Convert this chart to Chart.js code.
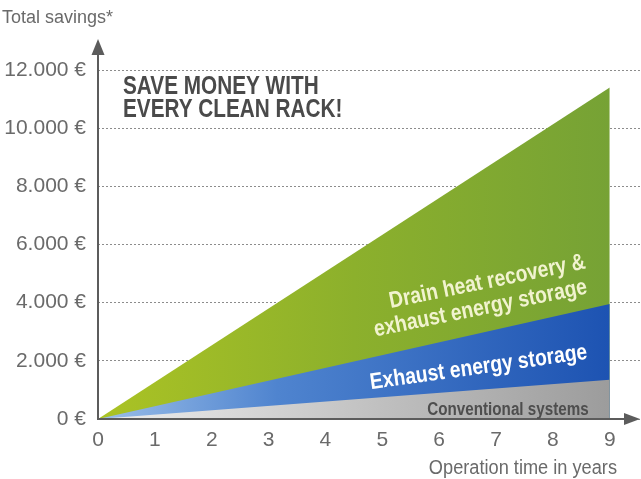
<!DOCTYPE html>
<html>
<head>
<meta charset="utf-8">
<script src="https://cdn.jsdelivr.net/npm/chart.js@4"></script>
<style>
  html, body { margin: 0; padding: 0; background: #fff; }
  #wrap { width: 641px; height: 479px; }
</style>
</head>
<body>
<div id="wrap"><canvas id="chart" width="641" height="479"></canvas></div>
<script>
// ---------- DATA ----------

const years = [0, 9];
const conventional = [0, 1350];
const exhaustStorage = [0, 3950];
const drainAndExhaust = [0, 11400];

const yTicks = [0, 2000, 4000, 6000, 8000, 10000, 12000];
const xTicks = [0, 1, 2, 3, 4, 5, 6, 7, 8, 9];

const yTitle = "Total savings*";
const xTitle = "Operation time in years";
const headline = ["SAVE MONEY WITH", "EVERY CLEAN RACK!"];
const drainLabel = ["Drain heat recovery &", "exhaust energy storage"];
const exhaustLabel = "Exhaust energy storage";
const conventionalLabel = "Conventional systems";

// ---------- STYLE ----------

const SANS = '"Liberation Sans", Arial, sans-serif';
const AXIS_GREY = "#5c5c5c";
const TEXT_GREY = "#6a6a6a";

function euro(v) {
  return String(v).replace(/\B(?=(\d{3})+(?!\d))/g, ".") + " €";
}

function toPoints(values) {
  return years.map((x, i) => ({ x, y: values[i] }));
}

// horizontal gradient running from year 0 to year 9
function gradient(stops) {
  return (context) => {
    const chart = context.chart;
    if (!chart.chartArea) return stops[stops.length - 1][1];
    const x0 = chart.scales.x.getPixelForValue(years[0]);
    const x1 = chart.scales.x.getPixelForValue(years[years.length - 1]);
    const g = chart.ctx.createLinearGradient(x0, 0, x1, 0);
    stops.forEach(([pos, col]) => g.addColorStop(pos, col));
    return g;
  };
}

// condensed look: squeeze a normal font horizontally
function narrowText(ctx, text, x, y, squeeze, angle) {
  ctx.save();
  ctx.translate(x, y);
  if (angle) ctx.rotate(angle * Math.PI / 180);
  ctx.scale(squeeze, 1);
  ctx.fillText(text, 0, 0);
  ctx.restore();
}

// ---------- PLUGINS ----------

const arrowAxes = {
  id: "arrowAxes",
  afterDatasetsDraw(chart) {
    const { ctx, chartArea: a } = chart;
    ctx.save();
    ctx.strokeStyle = AXIS_GREY;
    ctx.fillStyle = AXIS_GREY;
    ctx.lineWidth = 2;

    // y axis
    ctx.beginPath();
    ctx.moveTo(a.left, a.bottom + 1);
    ctx.lineTo(a.left, a.top - 16);
    ctx.stroke();
    ctx.beginPath();
    ctx.moveTo(a.left, a.top - 31);
    ctx.lineTo(a.left - 6.5, a.top - 15);
    ctx.lineTo(a.left + 6.5, a.top - 15);
    ctx.closePath();
    ctx.fill();

    // x axis
    ctx.beginPath();
    ctx.moveTo(a.left - 1, a.bottom);
    ctx.lineTo(a.right - 16, a.bottom);
    ctx.stroke();
    ctx.beginPath();
    ctx.moveTo(a.right - 1, a.bottom);
    ctx.lineTo(a.right - 17, a.bottom - 6);
    ctx.lineTo(a.right - 17, a.bottom + 6);
    ctx.closePath();
    ctx.fill();
    ctx.restore();
  }
};

const chartTexts = {
  id: "chartTexts",
  afterDatasetsDraw(chart) {
    const { ctx } = chart;
    const xs = chart.scales.x;
    const ys = chart.scales.y;
    const px = (v) => xs.getPixelForValue(v);
    const py = (v) => ys.getPixelForValue(v);

    ctx.save();
    ctx.textBaseline = "alphabetic";

    // axis titles
    ctx.fillStyle = TEXT_GREY;
    ctx.font = "18px " + SANS;
    ctx.textAlign = "left";
    ctx.fillText(yTitle, 2, 23);

    ctx.font = "20px " + SANS;
    ctx.textAlign = "right";
    narrowText(ctx, xTitle, 617, 474, 0.91);

    // headline
    ctx.fillStyle = "#4a4a4a";
    ctx.font = "bold 25px " + SANS;
    ctx.textAlign = "left";
    narrowText(ctx, headline[0], px(0.44), py(11170), 0.83);
    narrowText(ctx, headline[1], px(0.44), py(10380), 0.83);

    // label on the green area
    ctx.font = "bold 23px " + SANS;
    ctx.textAlign = "center";
    ctx.fillStyle = "#f1f3cf";
    narrowText(ctx, drainLabel[0], px(6.87), py(4500), 0.84, -11.5);
    narrowText(ctx, drainLabel[1], px(6.75), py(3580), 0.84, -11.5);

    // label on the blue area
    ctx.fillStyle = "#ffffff";
    narrowText(ctx, exhaustLabel, px(6.71), py(1550), 0.84, -8);

    // label on the grey area
    ctx.fillStyle = "#4e4e4e";
    ctx.font = "bold 18px " + SANS;
    ctx.textAlign = "right";
    narrowText(ctx, conventionalLabel, px(8.63), py(140), 0.845);

    ctx.restore();
  }
};

// ---------- CHART ----------

new Chart(document.getElementById("chart"), {
  type: "line",
  data: {
    datasets: [
      {
        label: conventionalLabel,
        data: toPoints(conventional),
        fill: "origin",
        borderWidth: 0,
        pointRadius: 0,
        tension: 0,
        backgroundColor: gradient([[0, "#efefef"], [0.5, "#c4c4c4"], [1, "#9c9c9c"]])
      },
      {
        label: exhaustLabel,
        data: toPoints(exhaustStorage),
        fill: "origin",
        borderWidth: 0,
        pointRadius: 0,
        tension: 0,
        backgroundColor: gradient([[0, "#9cbfe9"], [0.35, "#4f84cf"], [1, "#1d53b2"]])
      },
      {
        label: drainLabel.join(" "),
        data: toPoints(drainAndExhaust),
        fill: "origin",
        borderWidth: 0,
        pointRadius: 0,
        tension: 0,
        backgroundColor: gradient([[0, "#abc324"], [0.5, "#8cb02c"], [1, "#76a235"]])
      }
    ]
  },
  options: {
    responsive: false,
    animation: false,
    events: [],
    layout: { padding: { top: 70, right: 0, bottom: 0, left: 0 } },
    plugins: {
      legend: { display: false },
      tooltip: { enabled: false }
    },
    scales: {
      x: {
        type: "linear",
        min: 0,
        max: 9.55,
        afterBuildTicks: (scale) => {
          scale.ticks = xTicks.map((v) => ({ value: v }));
        },
        afterFit: (scale) => { scale.height = 60; },
        grid: { display: false, drawTicks: false },
        border: { display: false },
        ticks: {
          padding: 9,
          maxRotation: 0,
          color: TEXT_GREY,
          font: { family: SANS, size: 21 }
        }
      },
      y: {
        min: 0,
        max: 12000,
        afterBuildTicks: (scale) => {
          scale.ticks = yTicks.map((v) => ({ value: v }));
        },
        afterFit: (scale) => { scale.width = 98; },
        grid: { color: "#8c8c8c", lineWidth: 1, drawTicks: false },
        border: { display: false, dash: [2, 2] },
        ticks: {
          padding: 12,
          color: TEXT_GREY,
          font: { family: SANS, size: 21 },
          callback: (v) => euro(v)
        }
      }
    }
  },
  plugins: [arrowAxes, chartTexts]
});
</script>
</body>
</html>
